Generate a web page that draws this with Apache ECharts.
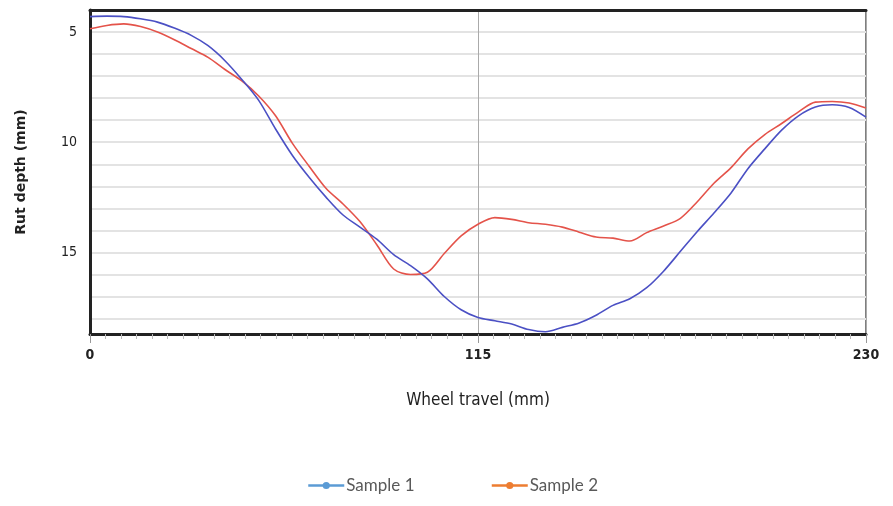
<!DOCTYPE html>
<html>
<head>
<meta charset="utf-8">
<script src="https://cdn.jsdelivr.net/npm/echarts@6/dist/echarts.min.js"></script>
<style>
  html, body { margin: 0; padding: 0; background: #fff; }
  #chart { width: 893px; height: 506px; }
</style>
</head>
<body>
<div id="chart"></div>
<script>
// wheel travel positions (mm)
var travel = [0, 5, 10, 15, 20, 25, 30, 35, 40, 45, 50, 55, 60, 65, 70, 75, 80, 85, 90, 95,
  100, 105, 110, 115, 120, 125, 130, 135, 140, 145, 150, 155, 160, 165, 170, 175, 180, 185,
  190, 195, 200, 205, 210, 215, 220, 225, 230];

// rut depth (mm)
var sample1 = [4.30, 4.28, 4.30, 4.40, 4.55, 4.82, 5.15, 5.62, 6.30, 7.15, 8.10, 9.40, 10.60,
  11.60, 12.50, 13.30, 13.85, 14.40, 15.10, 15.60, 16.20, 17.00, 17.60, 17.95, 18.10, 18.25,
  18.50, 18.60, 18.40, 18.20, 17.85, 17.40, 17.10, 16.60, 15.85, 14.95, 14.05, 13.20, 12.30,
  11.20, 10.30, 9.45, 8.80, 8.40, 8.30, 8.42, 8.86];
var sample2 = [4.85, 4.70, 4.63, 4.75, 5.00, 5.35, 5.75, 6.15, 6.70, 7.22, 7.90, 8.80, 10.05,
  11.10, 12.10, 12.80, 13.60, 14.65, 15.75, 16.00, 15.90, 15.05, 14.25, 13.72, 13.42, 13.50,
  13.65, 13.72, 13.85, 14.08, 14.30, 14.35, 14.48, 14.10, 13.80, 13.45, 12.70, 11.85, 11.15,
  10.30, 9.65, 9.15, 8.62, 8.18, 8.15, 8.22, 8.45];

var yLabels = [5, 10, 15];

function pairs(xs, ys) {
  var out = [];
  for (var i = 0; i < xs.length; i++) {
    out.push([xs[i], ys[i]]);
  }
  return out;
}

var narrow = "'Liberation Sans Narrow', 'DejaVu Sans Condensed', sans-serif";

var myChart = echarts.init(document.getElementById('chart'));
myChart.setOption({
  animation: false,
  backgroundColor: '#fff',
  grid: {
    left: 90, right: 27, top: 10, bottom: 172,
    show: true, borderColor: '#555', borderWidth: 1.5
  },
  legend: {
    bottom: 7,
    left: 302,
    itemWidth: 36,
    itemHeight: 9,
    itemGap: 76,
    textStyle: { fontFamily: "Lato, sans-serif", fontSize: 17, color: '#595959', padding: [0, 0, 0, -3] },
    data: [
      { name: 'Sample 1', itemStyle: { color: '#5b9bd5' }, lineStyle: { color: '#5b9bd5', width: 2.5 } },
      { name: 'Sample 2', itemStyle: { color: '#ed7d31' }, lineStyle: { color: '#ed7d31', width: 2.5 } }
    ]
  },
  xAxis: [{
    type: 'value',
    min: 0,
    max: 230,
    interval: 115,
    name: 'Wheel travel (mm)',
    nameLocation: 'middle',
    nameGap: 58,
    nameTextStyle: { fontFamily: narrow, fontSize: 17, color: '#222' },
    axisLine: { show: true, onZero: false, lineStyle: { color: '#222', width: 3 } },
    axisTick: { show: true, length: 9, lineStyle: { color: '#999', width: 1 } },
    minorTick: { show: true, splitNumber: 25, length: 5, lineStyle: { color: '#bbb', width: 1 } },
    axisLabel: {
      margin: 14,
      fontFamily: narrow, fontSize: 14, fontWeight: 'bold', color: '#222'
    },
    splitLine: { show: true, lineStyle: { color: '#aaa', width: 1 } }
  }, {
    type: 'value',
    position: 'top',
    min: 0,
    max: 230,
    axisLine: { show: true, lineStyle: { color: '#222', width: 3 } },
    axisTick: { show: false },
    axisLabel: { show: false },
    splitLine: { show: false }
  }],
  yAxis: {
    type: 'value',
    inverse: true,
    min: 4,
    max: 18.7,
    interval: 1,
    name: 'Rut depth (mm)',
    nameLocation: 'middle',
    nameGap: 62,
    nameTextStyle: { fontFamily: "'DejaVu Sans', sans-serif", fontSize: 14, fontWeight: 'bold', color: '#222' },
    axisLine: { show: true, lineStyle: { color: '#222', width: 3 } },
    axisTick: { show: false },
    axisLabel: {
      margin: 13,
      showMaxLabel: false,
      fontFamily: narrow, fontSize: 14, color: '#222',
      formatter: function (v) {
        return yLabels.indexOf(Math.round(v * 100) / 100) >= 0 ? String(v) : '';
      }
    },
    splitLine: { show: true, lineStyle: { color: '#e3e3e3', width: 2 } }
  },
  series: [{
    name: 'Sample 1',
    type: 'line',
    data: pairs(travel, sample1),
    smooth: 0.3,
    symbol: 'circle',
    symbolSize: 8,
    showSymbol: false,
    itemStyle: { color: '#5b9bd5' },
    lineStyle: { color: '#4b50c4', width: 1.6 },
    z: 3
  }, {
    name: 'Sample 2',
    type: 'line',
    data: pairs(travel, sample2),
    smooth: 0.3,
    symbol: 'circle',
    symbolSize: 8,
    showSymbol: false,
    itemStyle: { color: '#ed7d31' },
    lineStyle: { color: '#e4534a', width: 1.6 },
    z: 2
  }]
});
</script>
</body>
</html>
